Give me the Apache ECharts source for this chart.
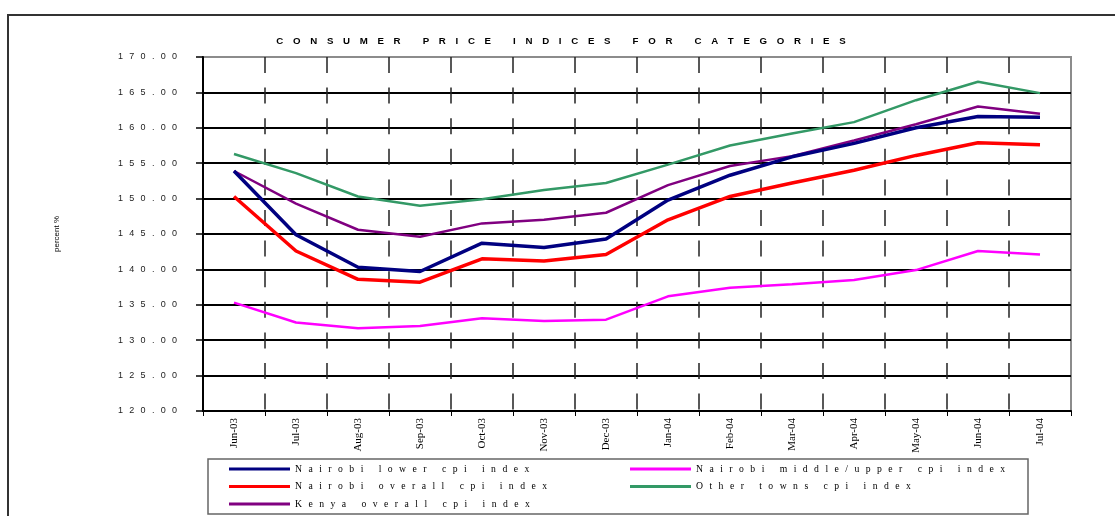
<!DOCTYPE html>
<html>
<head>
<meta charset="utf-8">
<script src="https://cdn.jsdelivr.net/npm/echarts@6/dist/echarts.min.js"></script>
<style>
    html, body { margin: 0; padding: 0; background: #fff; }
    #main { width: 1115px; height: 516px; }
</style>
</head>
<body>
<div id="main"></div>
<script>
var months = ['Jun-03', 'Jul-03', 'Aug-03', 'Sep-03', 'Oct-03', 'Nov-03', 'Dec-03',
    'Jan-04', 'Feb-04', 'Mar-04', 'Apr-04', 'May-04', 'Jun-04', 'Jul-04'];

var nairobiLower = [153.9, 144.9, 140.3, 139.7, 143.7, 143.1, 144.3, 149.8, 153.3, 155.9, 157.8, 160.0, 161.6, 161.5];
var nairobiMiddleUpper = [135.3, 132.5, 131.7, 132.0, 133.1, 132.7, 132.9, 136.2, 137.4, 137.9, 138.5, 139.9, 142.6, 142.1];
var nairobiOverall = [150.3, 142.6, 138.6, 138.2, 141.5, 141.2, 142.1, 147.0, 150.3, 152.2, 154.0, 156.1, 157.9, 157.6];
var otherTowns = [156.3, 153.6, 150.3, 149.0, 149.9, 151.2, 152.2, 154.8, 157.5, 159.2, 160.8, 163.9, 166.5, 164.9];
var kenyaOverall = [153.9, 149.3, 145.6, 144.6, 146.5, 147.0, 148.0, 151.9, 154.6, 156.0, 158.2, 160.5, 163.0, 162.0];

var titleText = 'CONSUMER PRICE INDICES FOR CATEGORIES';

// excel-ish letter spacing
function spaced(s, gap) {
    return s.split('').join(gap);
}

var myChart = echarts.init(document.getElementById('main'));

function line(name, data, color, width) {
    return {
        name: name,
        type: 'line',
        data: data,
        showSymbol: false,
        symbol: 'none',
        lineStyle: { color: color, width: width },
        itemStyle: { color: color }
    };
}

var legendText = {
    fontFamily: 'Liberation Serif',
    fontSize: 9.7,
    color: '#000'
};

var option = {
    animation: false,
    backgroundColor: '#fff',
    title: {
        text: spaced(titleText, '\u2003'),
        left: 556,
        top: 31,
        textAlign: 'center',
        textStyle: {
            fontFamily: 'Liberation Sans',
            fontSize: 9.7,
            fontWeight: 'bold',
            color: '#000'
        }
    },
    grid: {
        left: 203,
        top: 57,
        width: 868,
        height: 354,
        show: true,
        borderColor: '#8c8c8c',
        borderWidth: 2
    },
    legend: [{
        orient: 'vertical',
        left: 224,
        top: 459,
        itemWidth: 61,
        itemHeight: 3,
        itemGap: 7.5,
        icon: 'rect',
        data: ['Nairobi lower cpi index', 'Nairobi overall cpi index', 'Kenya overall cpi index'],
        formatter: function (n) { return spaced(n, '\u2002\u2006'); },
        textStyle: legendText
    }, {
        orient: 'vertical',
        left: 625,
        top: 459,
        itemWidth: 61,
        itemHeight: 3,
        itemGap: 7.5,
        icon: 'rect',
        data: ['Nairobi middle/upper cpi index', 'Other towns cpi index'],
        formatter: function (n) { return spaced(n, '\u2002\u2006'); },
        textStyle: legendText
    }],
    xAxis: {
        type: 'category',
        data: months,
        boundaryGap: true,
        axisLine: { lineStyle: { color: '#000', width: 2 } },
        axisTick: { show: true, interval: 0, length: 5, lineStyle: { color: '#000', width: 1 } },
        axisLabel: {
            interval: 0,
            rotate: 90,
            margin: 7,
            fontFamily: 'Liberation Serif',
            fontSize: 11,
            color: '#000'
        },
        splitLine: {
            show: true,
            interval: 0,
            showMaxLine: false,
            lineStyle: { color: '#222', width: 1.5, type: [16, 14.6] }
        }
    },
    yAxis: {
        type: 'value',
        min: 120,
        max: 170,
        interval: 5,
        name: 'percent %',
        nameLocation: 'middle',
        nameGap: 142,
        nameRotate: 90,
        nameTextStyle: { fontFamily: 'Liberation Sans', fontSize: 8, color: '#000' },
        axisLine: { show: true, lineStyle: { color: '#000', width: 2 } },
        axisTick: { show: true, length: 7, lineStyle: { color: '#000', width: 1.5 } },
        axisLabel: {
            margin: 26,
            fontFamily: 'Liberation Sans',
            fontSize: 9,
            color: '#222',
            formatter: function (v) { return spaced(v.toFixed(2), '\u2002\u2009'); }
        },
        splitLine: { showMaxLine: false, lineStyle: { color: '#000', width: 2 } }
    },
    graphic: [{
        type: 'polyline',
        shape: { points: [[8, 516], [8, 15], [1115, 15]] },
        style: { stroke: '#333', lineWidth: 2, fill: null }
    }, {
        type: 'rect',
        shape: { x: 208, y: 459, width: 820, height: 55 },
        style: { stroke: '#666', lineWidth: 1.5, fill: null }
    }],
    series: [
        line('Other towns cpi index', otherTowns, '#339966', 2.5),
        line('Nairobi middle/upper cpi index', nairobiMiddleUpper, '#ff00ff', 2.5),
        line('Nairobi overall cpi index', nairobiOverall, '#ff0000', 3.5),
        line('Kenya overall cpi index', kenyaOverall, '#800080', 2.5),
        line('Nairobi lower cpi index', nairobiLower, '#000080', 3.5)
    ]
};
myChart.setOption(option);
</script>
</body>
</html>
